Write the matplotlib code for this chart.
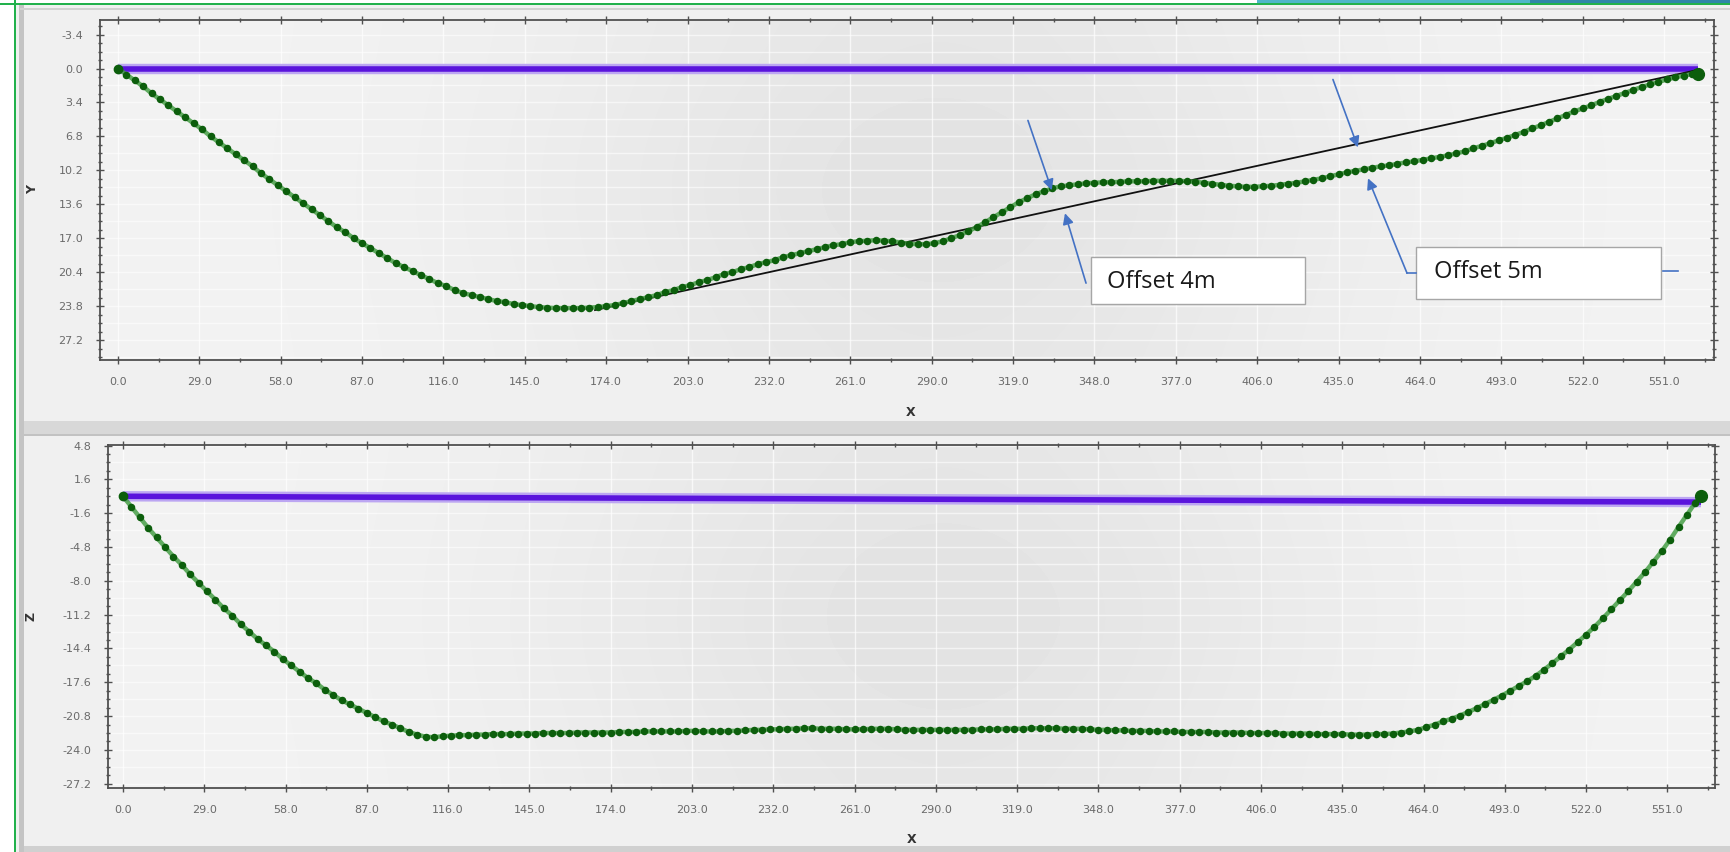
import numpy as np
import matplotlib
matplotlib.use("Agg")
import matplotlib.pyplot as plt
from matplotlib.patches import Rectangle
from matplotlib.ticker import FixedLocator, MultipleLocator, FormatStrFormatter

# stations along the track (X, m)
STATION_X = [
    0, 3, 6, 9, 12, 15, 18, 21, 24, 27,
    30, 33, 36, 39, 42, 45, 48, 51, 54, 57,
    60, 63, 66, 69, 72, 75, 78, 81, 84, 87,
    90, 93, 96, 99, 102, 105, 108, 111, 114, 117,
    120, 123, 126, 129, 132, 135, 138, 141, 144, 147,
    150, 153, 156, 159, 162, 165, 168, 171, 174, 177,
    180, 183, 186, 189, 192, 195, 198, 201, 204, 207,
    210, 213, 216, 219, 222, 225, 228, 231, 234, 237,
    240, 243, 246, 249, 252, 255, 258, 261, 264, 267,
    270, 273, 276, 279, 282, 285, 288, 291, 294, 297,
    300, 303, 306, 309, 312, 315, 318, 321, 324, 327,
    330, 333, 336, 339, 342, 345, 348, 351, 354, 357,
    360, 363, 366, 369, 372, 375, 378, 381, 384, 387,
    390, 393, 396, 399, 402, 405, 408, 411, 414, 417,
    420, 423, 426, 429, 432, 435, 438, 441, 444, 447,
    450, 453, 456, 459, 462, 465, 468, 471, 474, 477,
    480, 483, 486, 489, 492, 495, 498, 501, 504, 507,
    510, 513, 516, 519, 522, 525, 528, 531, 534, 537,
    540, 543, 546, 549, 552, 555, 558, 561, 563,
]

# lateral offset of the track (Y, m)
TRACK_Y = [
    0.0, 0.6, 1.2, 1.8, 2.5, 3.1, 3.7, 4.3, 4.9, 5.5,
    6.1, 6.8, 7.4, 8.0, 8.6, 9.2, 9.8, 10.5, 11.1, 11.7,
    12.3, 12.9, 13.5, 14.1, 14.7, 15.3, 15.9, 16.4, 17.0, 17.5,
    18.0, 18.5, 19.0, 19.5, 19.9, 20.3, 20.7, 21.1, 21.5, 21.8,
    22.2, 22.5, 22.7, 22.9, 23.1, 23.3, 23.4, 23.6, 23.7, 23.8,
    23.9, 23.95, 24.0, 24.0, 24.0, 24.0, 23.95, 23.9, 23.8, 23.7,
    23.5, 23.3, 23.1, 22.9, 22.7, 22.4, 22.2, 21.9, 21.7, 21.4,
    21.2, 20.9, 20.6, 20.4, 20.1, 19.9, 19.6, 19.4, 19.2, 18.9,
    18.7, 18.5, 18.3, 18.1, 17.9, 17.7, 17.6, 17.4, 17.3, 17.25,
    17.2, 17.25, 17.3, 17.45, 17.55, 17.6, 17.6, 17.5, 17.3, 17.0,
    16.7, 16.3, 15.9, 15.4, 14.9, 14.4, 13.9, 13.4, 13.0, 12.6,
    12.3, 12.0, 11.8, 11.7, 11.6, 11.5, 11.45, 11.4, 11.4, 11.35,
    11.3, 11.3, 11.3, 11.25, 11.25, 11.25, 11.25, 11.3, 11.35, 11.45,
    11.55, 11.65, 11.75, 11.8, 11.85, 11.85, 11.8, 11.75, 11.65, 11.55,
    11.45, 11.3, 11.15, 11.0, 10.8, 10.6, 10.4, 10.25, 10.1, 9.95,
    9.8, 9.7, 9.55, 9.4, 9.3, 9.15, 9.0, 8.85, 8.7, 8.5,
    8.3, 8.0, 7.75, 7.5, 7.2, 6.95, 6.65, 6.35, 6.0, 5.7,
    5.35, 5.0, 4.65, 4.3, 4.0, 3.7, 3.35, 3.05, 2.75, 2.45,
    2.15, 1.85, 1.6, 1.35, 1.1, 0.9, 0.7, 0.55, 0.5,
]

# elevation of the track (Z, m)
TRACK_Z = [
    0.0, -1.0, -2.0, -3.0, -3.9, -4.8, -5.7, -6.5, -7.4, -8.2,
    -9.0, -9.8, -10.6, -11.3, -12.1, -12.8, -13.5, -14.1, -14.7, -15.4,
    -16.0, -16.6, -17.2, -17.7, -18.3, -18.8, -19.3, -19.7, -20.1, -20.5,
    -20.9, -21.3, -21.6, -21.95, -22.3, -22.55, -22.75, -22.8, -22.7, -22.65,
    -22.6, -22.6, -22.55, -22.55, -22.5, -22.5, -22.5, -22.45, -22.45, -22.45,
    -22.4, -22.4, -22.4, -22.4, -22.35, -22.35, -22.35, -22.35, -22.35, -22.3,
    -22.3, -22.3, -22.25, -22.25, -22.25, -22.25, -22.25, -22.2, -22.2, -22.25,
    -22.25, -22.25, -22.2, -22.2, -22.15, -22.1, -22.1, -22.05, -22.05, -22.0,
    -22.0, -21.95, -21.95, -22.0, -22.0, -22.0, -22.05, -22.05, -22.05, -22.0,
    -22.0, -22.0, -22.05, -22.1, -22.1, -22.1, -22.1, -22.1, -22.1, -22.1,
    -22.1, -22.1, -22.05, -22.05, -22.05, -22.0, -22.0, -22.0, -21.95, -21.95,
    -21.95, -21.95, -22.0, -22.0, -22.0, -22.05, -22.1, -22.1, -22.15, -22.15,
    -22.2, -22.2, -22.2, -22.25, -22.25, -22.25, -22.3, -22.3, -22.3, -22.3,
    -22.35, -22.35, -22.35, -22.35, -22.4, -22.4, -22.4, -22.4, -22.45, -22.45,
    -22.45, -22.45, -22.5, -22.5, -22.5, -22.5, -22.55, -22.55, -22.55, -22.5,
    -22.5, -22.45, -22.35, -22.25, -22.1, -21.85, -21.6, -21.3, -21.05, -20.75,
    -20.4, -20.05, -19.65, -19.25, -18.85, -18.4, -17.95, -17.5, -17.0, -16.4,
    -15.8, -15.15, -14.5, -13.8, -13.1, -12.35, -11.55, -10.7, -9.85, -9.0,
    -8.1, -7.2, -6.2, -5.2, -4.1, -2.9, -1.75, -0.6, 0.0,
]

# straight design path between the two ends
PATH_X = [0, 563]
PATH_Y = [0.0, 0.0]
PATH_Z = [0.0, -0.55]

# chord from the low point to the exit
CHORD_X = [170, 562]
CHORD_Y = [24.2, 0.2]

X_TICKS = [0, 29, 58, 87, 116, 145, 174, 203, 232, 261, 290, 319, 348,
           377, 406, 435, 464, 493, 522, 551]
Y_TICKS = [-3.4, 0.0, 3.4, 6.8, 10.2, 13.6, 17.0, 20.4, 23.8, 27.2]
Z_TICKS = [4.8, 1.6, -1.6, -4.8, -8.0, -11.2, -14.4, -17.6, -20.8, -24.0, -27.2]

# callouts on the plan view: (text, box x0, x1, y0, y1, text x, text y)
CALLOUTS = [
    ("Offset 4m", 346.8, 423.0, 18.9, 23.6, 352.5, 21.4),
    ("Offset 5m", 462.6, 549.9, 17.9, 23.1, 469.0, 20.4),
]
# arrows: (tail, tip)
ARROWS = [
    ((324.3, 5.2), (332.8, 12.2)),
    ((345.0, 21.5), (337.5, 14.5)),
    ((433.0, 1.1), (441.9, 7.9)),
    ((459.4, 20.5), (445.5, 11.0)),
]
LEADERS = [
    ([462.6, 459.4], [20.5, 20.5]),
    ([550.6, 556.0], [20.3, 20.3]),
]

W, H = 1731, 852
GREEN = "#0c5e0c"
GREEN_LINE = "#3c9a3c"
PURPLE = "#5a14dc"
PURPLE_HALO = "#bca6f2"
BLUE = "#4472c4"

fig = plt.figure(figsize=(W / 100, H / 100), dpi=100)
fig.patch.set_facecolor("#f0f0f0")


def px_box(x0, y0, x1, y1, color):
    # rectangle in screen pixels measured from the top-left corner
    fig.patches.append(Rectangle((x0 / W, 1 - y1 / H), (x1 - x0) / W, (y1 - y0) / H,
                                 transform=fig.transFigure, facecolor=color,
                                 edgecolor="none", zorder=-5))


# window frame
px_box(0, 0, 14, H, "white")
px_box(0, 0, W, 4, "white")
px_box(1257, 0, 1530, 3, "#4fb6c9")
px_box(1530, 0, W, 3, "#2f86a8")
px_box(0, 3, W, 5, "#22b14c")
px_box(14, 0, 16, H, "#22b14c")
px_box(19, 5, 24, H, "#c4c4c4")
px_box(20, 8, W, 10, "#d2d2d2")
px_box(24, 421, W, 434, "#d8d8d8")
px_box(24, 434, W, 436, "#c2c2c2")
px_box(24, 846, W, H, "#d0d0d0")


def background(ax):
    u = np.linspace(0, 1, 300)[None, :]
    v = np.linspace(0, 1, 80)[:, None]
    shade = 0.95 - 0.06 * np.exp(-((u - 0.52) / 0.26) ** 2) * (0.8 + 0.2 * np.exp(-((v - 0.5) / 0.4) ** 2))
    ax.imshow(shade, extent=(0, 1, 0, 1), transform=ax.transAxes, aspect="auto",
              cmap="gray", vmin=0, vmax=1, zorder=0, interpolation="bilinear")


def style_axes(ax, yticks, yminor, grid_step, ylim):
    ax.xaxis.set_major_locator(FixedLocator(X_TICKS))
    ax.xaxis.set_minor_locator(MultipleLocator(14.5))
    ax.yaxis.set_major_locator(FixedLocator(yticks))
    ax.yaxis.set_minor_locator(MultipleLocator(yminor))
    ax.xaxis.set_major_formatter(FormatStrFormatter("%.1f"))
    ax.yaxis.set_major_formatter(FormatStrFormatter("%.1f"))
    ax.tick_params(which="both", direction="inout", color="#505050", width=1,
                   top=True, right=True, labelsize=8, labelcolor="#6a6a6a", pad=9)
    ax.tick_params(which="major", length=6)
    ax.tick_params(which="minor", length=3)
    for s in ax.spines.values():
        s.set_color("#505050")
        s.set_linewidth(1.3)
    for xv in X_TICKS:
        ax.axvline(xv, color="white", lw=1, alpha=0.7, zorder=1)
    lo, hi = min(ylim), max(ylim)
    g = np.arange(np.ceil(lo / grid_step) * grid_step, hi, grid_step)
    for yv in g:
        ax.axhline(yv, color="white", lw=1, alpha=0.6, zorder=1)


def draw_track(ax, xs, ys):
    ax.plot(xs, ys, color=GREEN_LINE, lw=3.2, alpha=0.8, zorder=5)
    ax.plot(xs, ys, "o", ms=4.4, mfc=GREEN, mec=GREEN, zorder=5)
    ax.plot(xs[-1], ys[-1], "o", ms=8.5, color=GREEN, zorder=6)
    ax.plot(xs[0], ys[0], "o", ms=6, color=GREEN, zorder=6)


def draw_path(ax, xs, ys):
    ax.plot(xs, ys, color=PURPLE_HALO, lw=7.5, solid_capstyle="butt", zorder=2)
    ax.plot(xs, ys, color=PURPLE, lw=4, solid_capstyle="butt", zorder=3)


# ---- plan view: Y against X ----
ax1 = fig.add_axes([100 / W, 1 - 360 / H, 1614 / W, 340 / H])
background(ax1)
ax1.set_xlim(-6.4, 568.8)
ax1.set_ylim(29.2, -4.86)
style_axes(ax1, Y_TICKS, 0.85, 1.7, (29.2, -4.86))

draw_path(ax1, PATH_X, PATH_Y)
ax1.plot(CHORD_X, CHORD_Y, color="#111111", lw=1.3, zorder=4)
draw_track(ax1, STATION_X, TRACK_Y)

for text, bx0, bx1, by0, by1, tx, ty in CALLOUTS:
    ax1.add_patch(Rectangle((bx0, by0), bx1 - bx0, by1 - by0, facecolor="white",
                            edgecolor="#a6a6a6", lw=1, zorder=7, clip_on=False))
    ax1.text(tx, ty, text, fontsize=17, family="Open Sans", color="#1a1a1a",
             va="center", ha="left", zorder=8)
for tail, tip in ARROWS:
    ax1.annotate("", xy=tip, xytext=tail, zorder=8, annotation_clip=False,
                 arrowprops=dict(arrowstyle="-|>", color=BLUE, lw=1.2,
                                 mutation_scale=16, shrinkA=0, shrinkB=0))
for lx, ly in LEADERS:
    ax1.plot(lx, ly, color=BLUE, lw=1.2, zorder=8, clip_on=False)

ax1.set_xlabel("X", fontsize=9, fontweight="bold", color="#333333")
ax1.set_ylabel("Y", fontsize=9, fontweight="bold", color="#333333")
ax1.xaxis.set_label_coords(0.502, -0.135)
ax1.yaxis.set_label_coords(-0.038, 0.5)

# ---- profile: Z against X ----
ax2 = fig.add_axes([108 / W, 1 - 788 / H, 1607 / W, 343 / H])
background(ax2)
ax2.set_xlim(-5.35, 568.0)
ax2.set_ylim(-27.6, 4.85)
style_axes(ax2, Z_TICKS, 0.8, 1.6, (-27.6, 4.85))

draw_path(ax2, PATH_X, PATH_Z)
draw_track(ax2, STATION_X, TRACK_Z)

ax2.set_xlabel("X", fontsize=9, fontweight="bold", color="#333333")
ax2.set_ylabel("Z", fontsize=9, fontweight="bold", color="#333333")
ax2.xaxis.set_label_coords(0.5, -0.131)
ax2.yaxis.set_label_coords(-0.044, 0.5)

fig.savefig("out.png", dpi=100, facecolor=fig.get_facecolor())
